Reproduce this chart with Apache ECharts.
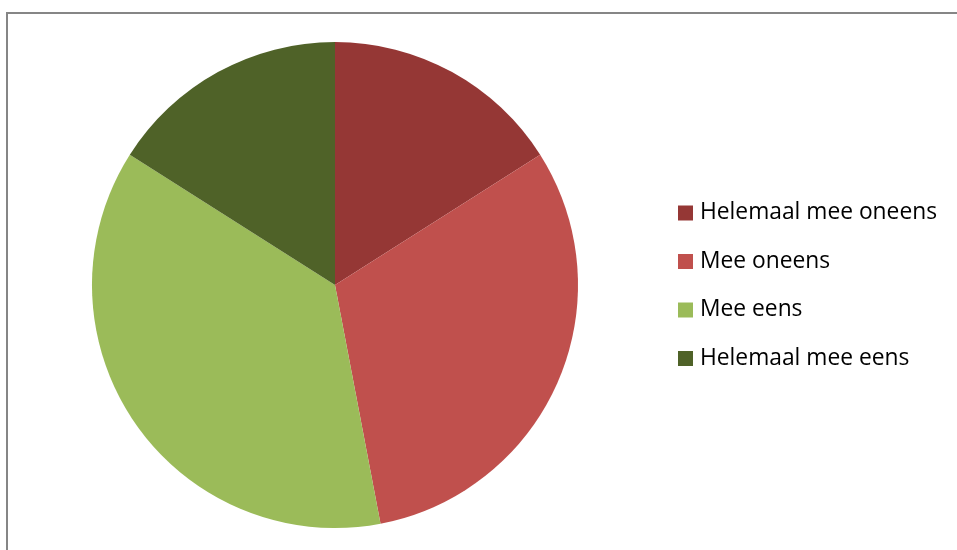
<!DOCTYPE html>
<html>
<head>
<meta charset="utf-8">
<script src="https://cdn.jsdelivr.net/npm/echarts@6/dist/echarts.min.js"></script>
<style>
html,body{margin:0;padding:0;background:#fff;}
#chart{width:957px;height:550px;}
</style>
</head>
<body>
<div id="chart"></div>
<script>
const categories = ['Helemaal mee oneens', 'Mee oneens', 'Mee eens', 'Helemaal mee eens'];
const values = [16, 31, 37, 16];
const colors = ['#953735', '#C0504D', '#9BBB59', '#4F6228'];

const chart = echarts.init(document.getElementById('chart'), null, {renderer: 'canvas'});
chart.setOption({
  animation: false,
  backgroundColor: '#ffffff',
  color: colors,
  graphic: [{
    type: 'rect',
    shape: {x: 7, y: 13, width: 980, height: 600},
    style: {fill: 'none', stroke: '#868686', lineWidth: 2},
    silent: true,
    z: -1
  }],
  legend: {
    orient: 'vertical',
    left: 673,
    top: 196,
    itemWidth: 15,
    itemHeight: 15,
    itemGap: 24.5,
    icon: 'rect',
    selectedMode: false,
    data: categories,
    textStyle: {
      fontFamily: 'Open Sans, Noto Sans, sans-serif',
      fontSize: 22.8,
      lineHeight: 24,
      color: '#000',
      padding: [0, 0, 0, 2]
    }
  },
  series: [{
    type: 'pie',
    center: [335, 285],
    radius: 243,
    startAngle: 90,
    clockwise: true,
    label: {show: false},
    labelLine: {show: false},
    emphasis: {disabled: true},
    itemStyle: {borderWidth: 0},
    data: categories.map((c, i) => ({name: c, value: values[i]}))
  }]
});
</script>
</body>
</html>
